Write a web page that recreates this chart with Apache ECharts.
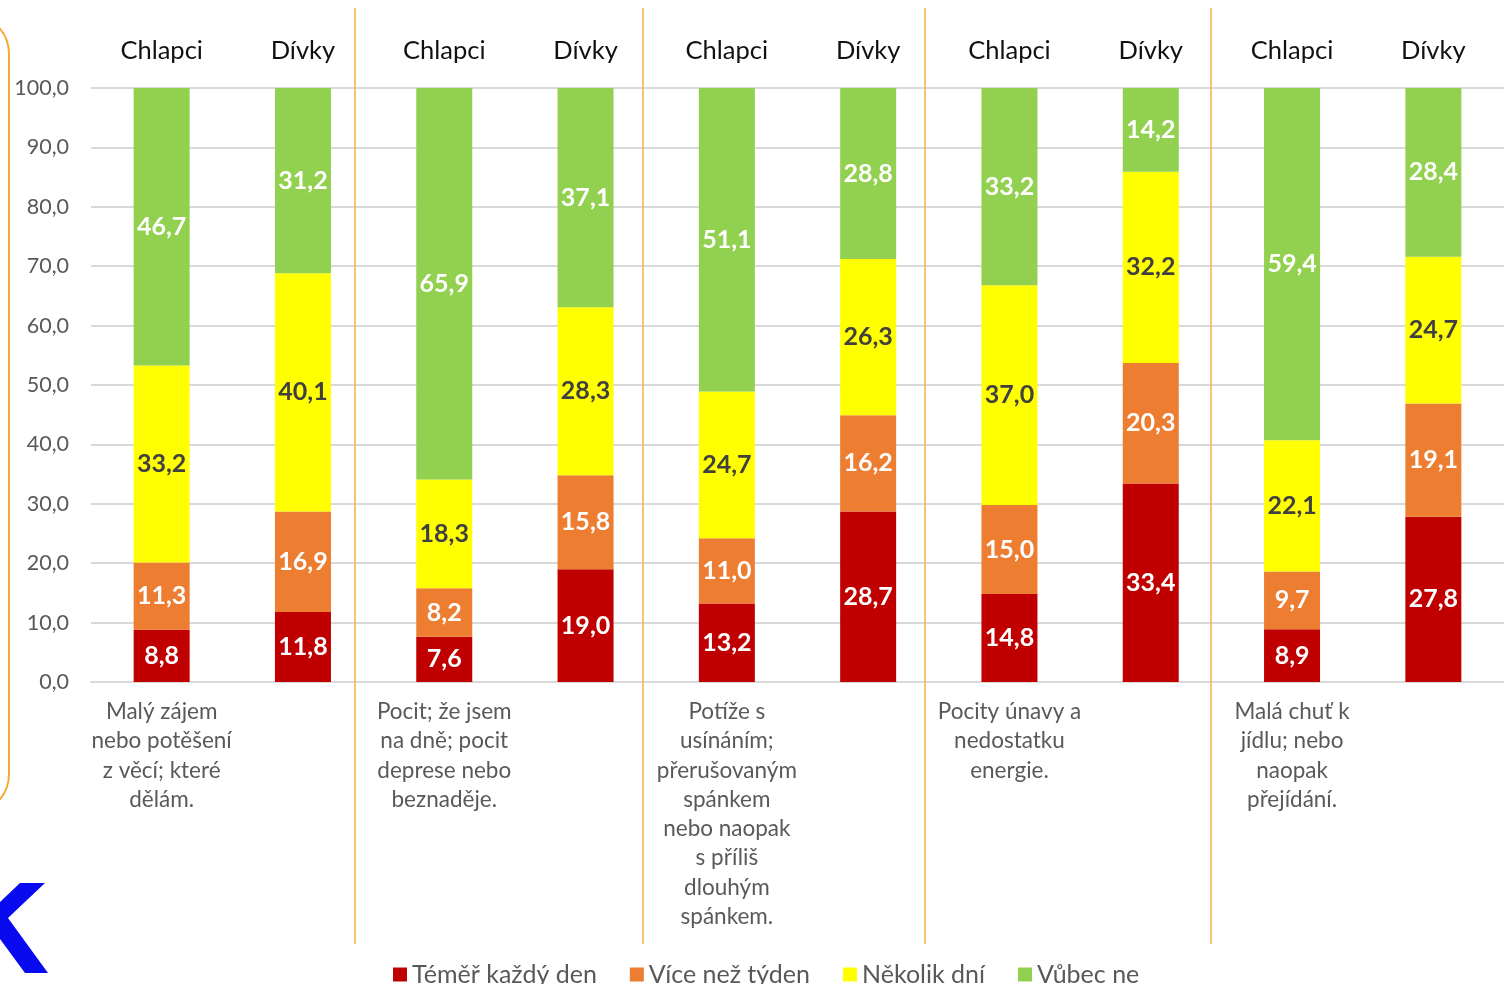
<!doctype html>
<html>
<head>
<meta charset="utf-8">
<script src="https://cdn.jsdelivr.net/npm/echarts@6/dist/echarts.min.js"></script>
<style>
  html, body { margin: 0; padding: 0; background: #fff; }
  #chart { width: 1504px; height: 984px; }
</style>
</head>
<body>
<div id="chart"></div>
<script>
// topics (one per pair of bars), bottom labels
var topics = [
  'Malý zájem\nnebo potěšení\nz věcí; které\ndělám.',
  'Pocit; že jsem\nna dně; pocit\ndeprese nebo\nbeznaděje.',
  'Potíže s\nusínáním;\npřerušovaným\nspánkem\nnebo naopak\ns příliš\ndlouhým\nspánkem.',
  'Pocity únavy a\nnedostatku\nenergie.',
  'Malá chuť k\njídlu; nebo\nnaopak\npřejídání.'
];
var genders = ['Chlapci', 'Dívky'];

// series values, order: topic1 Chlapci, topic1 Dívky, topic2 Chlapci ...
var skoroDenne = [8.8, 11.8, 7.6, 19.0, 13.2, 28.7, 14.8, 33.4, 8.9, 27.8];
var viceNezTyden = [11.3, 16.9, 8.2, 15.8, 11.0, 16.2, 15.0, 20.3, 9.7, 19.1];
var nekolikDni = [33.2, 40.1, 18.3, 28.3, 24.7, 26.3, 37.0, 32.2, 22.1, 24.7];
var vubecNe = [46.7, 31.2, 65.9, 37.1, 51.1, 28.8, 33.2, 14.2, 59.4, 28.4];

var seriesNames = ['Téměř každý den', 'Více než týden', 'Několik dní', 'Vůbec ne'];
var seriesColors = ['#C00000', '#ED7D31', '#FFFF00', '#92D050'];
var labelColors = ['#ffffff', '#ffffff', '#404040', '#ffffff'];
var seriesData = [skoroDenne, viceNezTyden, nekolikDni, vubecNe];

var bottomCats = [], topCats = [];
topics.forEach(function (t) {
  bottomCats.push(t, ' ');
  topCats.push(genders[0], genders[1]);
});

function comma(v) { return v.toFixed(1).replace('.', ','); }

var FONT = 'Lato';

var chart = echarts.init(document.getElementById('chart'));

var series = seriesData.map(function (d, i) {
  return {
    name: seriesNames[i],
    type: 'bar',
    stack: 'total',
    barWidth: 56,
    data: d,
    itemStyle: { color: seriesColors[i] },
    label: {
      show: true,
      position: 'inside',
      color: labelColors[i],
      fontFamily: FONT,
      fontWeight: 'bold',
      fontSize: 25,
      formatter: function (p) { return comma(p.value); }
    }
  };
});

var sepStyle = { stroke: '#F5B04A', lineWidth: 1.5 };
var seps = [355, 643, 925, 1211].map(function (x) {
  return { type: 'line', shape: { x1: x, y1: 8, x2: x, y2: 944 }, style: sepStyle, z: 10 };
});

var option = {
  animation: false,
  textStyle: { fontFamily: FONT },
  grid: { left: 91, right: 0, top: 88, bottom: 302 },
  legend: {
    left: 388,
    top: 957,
    itemWidth: 14,
    itemHeight: 14,
    itemGap: 33,
    icon: 'rect',
    textStyle: { color: '#595959', fontSize: 25, fontFamily: FONT },
    data: seriesNames
  },
  xAxis: [
    {
      type: 'category',
      data: bottomCats,
      axisLine: { show: true, lineStyle: { color: '#d9d9d9', width: 2 } },
      axisTick: { show: false },
      axisLabel: {
        interval: 0,
        margin: 15,
        color: '#595959',
        fontSize: 22.5,
        lineHeight: 29.3,
        fontFamily: FONT,
        align: 'center',
        verticalAlign: 'top'
      }
    },
    {
      type: 'category',
      position: 'top',
      data: topCats,
      axisLine: { show: false },
      axisTick: { show: false },
      axisLabel: {
        interval: 0, margin: 24, color: '#111', fontSize: 25.5, fontFamily: FONT,
        formatter: function (v) { return v; }
      }
    }
  ],
  yAxis: {
    type: 'value',
    min: 0,
    max: 100,
    interval: 10,
    axisLine: { show: false },
    axisTick: { show: false },
    splitLine: { lineStyle: { color: '#d9d9d9', width: 2 } },
    axisLabel: {
      margin: 22,
      color: '#595959',
      fontSize: 21.5,
      fontFamily: FONT,
      formatter: function (v) { return comma(v); }
    }
  },
  series: series,
  graphic: seps.concat([
    {
      type: 'rect',
      shape: { x: -400, y: 14, width: 409, height: 800, r: 40 },
      style: { fill: 'none', stroke: '#F7A833', lineWidth: 2 }
    },
    {
      type: 'polygon',
      shape: { points: [[0, 902], [20, 883], [45, 883], [8, 918], [48, 973], [25, 973], [0, 939]] },
      style: { fill: '#0A0AF0' }
    }
  ])
};

chart.setOption(option);
</script>
</body>
</html>
